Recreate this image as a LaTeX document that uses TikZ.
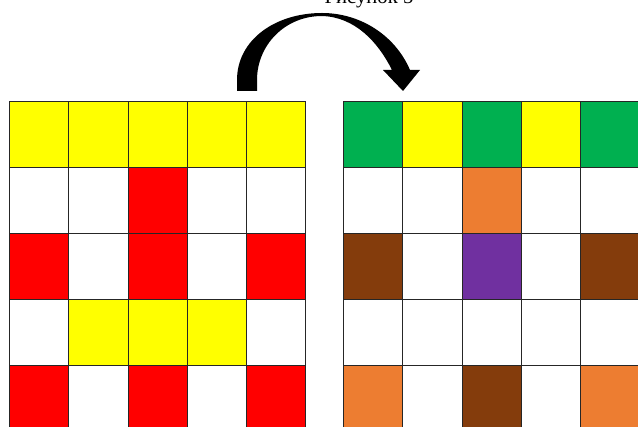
\documentclass[tikz,border=0pt]{standalone}
\usepackage{fontspec}
\setmainfont{Liberation Serif}
\usepackage{tikz}
\definecolor{cY}{HTML}{FFFF00}
\definecolor{cW}{HTML}{FFFFFF}
\definecolor{cR}{HTML}{FF0000}
\definecolor{cG}{HTML}{00B050}
\definecolor{cO}{HTML}{ED7D31}
\definecolor{cB}{HTML}{843C0C}
\definecolor{cP}{HTML}{7030A0}

\begin{document}
\begin{tikzpicture}[
  x=0.75pt, y=-0.75pt,
  cell/.style={draw=black!85, line width=0.6pt, minimum width=44.475pt, minimum height=49.5pt, inner sep=0pt, outer sep=0pt, anchor=north west},
  title/.style={anchor=base, font=\fontsize{15.5}{18}\selectfont}
]
  \useasboundingbox (0,0) rectangle (638,427);
  \clip (0,0) rectangle (638,427);

  \node[title] (cap) at (369,4) {Рисунок 5};

  % left pattern
  \foreach \row [count=\r] in {{Y,Y,Y,Y,Y},{W,W,R,W,W},{R,W,R,W,R},{W,Y,Y,Y,W},{R,W,R,W,R}}
    \foreach \c [count=\k] in \row
      \node[cell, fill=c\c] (L-\r-\k) at ({9.3+(\k-1)*59.3}, {101+(\r-1)*66}) {};

  % right pattern
  \foreach \row [count=\r] in {{G,Y,G,Y,G},{W,W,O,W,W},{B,W,P,W,B},{W,W,W,W,W},{O,W,B,W,O}}
    \foreach \c [count=\k] in \row
      \node[cell, fill=c\c] (R-\r-\k) at ({343.3+(\k-1)*59.3}, {101+(\r-1)*66}) {};

  % curved block arrow
  \fill[black] (237,91) -- (237,80)
    .. controls (237,40) and (275,13) .. (322,13)
    .. controls (360,13) and (395,35) .. (410,70)
    -- (420,70) -- (403,91) -- (383,70) -- (392,70)
    .. controls (378,42) and (355,17) .. (322,16)
    .. controls (285,16) and (257,45) .. (257,80)
    -- (257,91) -- cycle;
\end{tikzpicture}
\end{document}
